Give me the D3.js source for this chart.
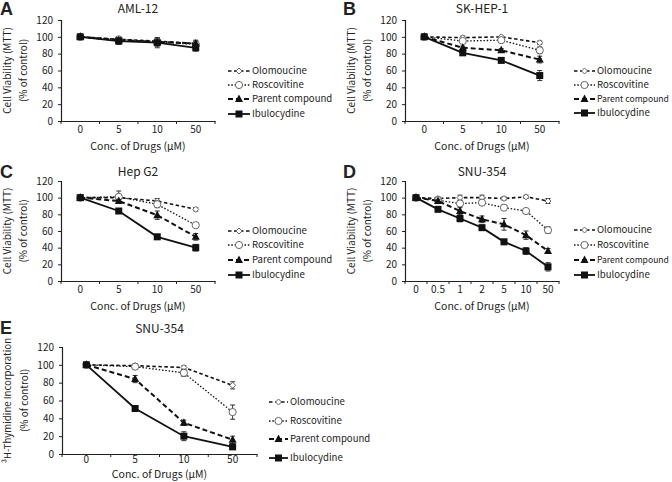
<!DOCTYPE html>
<html><head><meta charset="utf-8">
<script src="https://cdn.jsdelivr.net/npm/d3@7"></script>
<style>
body{margin:0;background:#fff;}
text{font-family:"Noto Sans CJK KR","Noto Sans",sans-serif;fill:#222;}
</style></head>
<body><svg id="chart" width="672" height="482"></svg>
<script>
// ---------- data ----------
const seriesNames = ["Olomoucine", "Roscovitine", "Parent compound", "Ibulocydine"];
const doses4 = ["0", "5", "10", "50"];
const doses7 = ["0", "0.5", "1", "2", "5", "10", "50"];
const yTicks = [0, 20, 40, 60, 80, 100, 120];

// A: AML-12 (MTT)
const amlValues = [[100, 97, 95, 92], [100, 97, 94, 91], [100, 96, 94, 92], [100, 95, 93, 87]];
const amlErrors = [[0, 2, 3, 3], [0, 2, 4, 3], [0, 3, 5, 4], [0, 4, 6, 4]];
// B: SK-HEP-1 (MTT)
const skValues = [[100, 99, 100, 93], [100, 95, 96, 84], [100, 87, 84, 73], [100, 81, 72, 54]];
const skErrors = [[0, 2, 1, 2], [0, 2, 2, 4], [0, 2, 2, 4], [0, 2, 2, 6]];
// C: Hep G2 (MTT)
const hepValues = [[100, 100, 96, 86], [100, 101, 92, 67], [100, 96, 79, 53], [100, 84, 53, 40]];
const hepErrors = [[0, 3, 3, 2], [0, 7, 4, 3], [0, 2, 5, 4], [0, 2, 3, 4]];
// D: SNU-354 (MTT)
const snuValues = [[100, 99, 100, 100, 99, 101, 96], [100, 97, 93, 94, 88, 84, 61],
                   [100, 96, 84, 74, 68, 55, 36], [100, 86, 75, 64, 47, 36, 17]];
const snuErrors = [[0, 2, 3, 3, 2, 2, 3], [0, 2, 3, 3, 3, 3, 4],
                   [0, 2, 4, 4, 7, 5, 3], [0, 2, 4, 3, 3, 4, 5]];
// E: SNU-354 (3H-thymidine)
const thyValues = [[100, 99, 97, 77], [100, 98, 91, 47], [100, 84, 35, 16], [100, 51, 20, 8]];
const thyErrors = [[0, 2, 2, 4], [0, 2, 4, 8], [0, 4, 3, 4], [0, 3, 5, 3]];

// ---------- styles ----------
const lineStyles = [
  {dash: "3.5,2.5", w: 1.6, marker: "diamond"},
  {dash: "1.5,1.8", w: 1.3, marker: "circle"},
  {dash: "5,3", w: 2.0, marker: "triangle"},
  {dash: null, w: 1.8, marker: "square"}
];

const svg = d3.select("#chart");

const panels = [
  {letter: "A", title: "AML-12", cats: doses4, vals: amlValues, errs: amlErrors,
   x0: 61, x1: 215, yTop: 20, yBot: 121, titleY: 13, letterY: 15, letterX: 0, tickPad: 5,
   legX: 228, legLen: 22, legRows: [71, 85, 99, 114], ylab: ["Cell Viability (MTT)", "(% of control)"], xlabY: 150},
  {letter: "B", title: "SK-HEP-1", cats: doses4, vals: skValues, errs: skErrors,
   x0: 405, x1: 559, yTop: 20, yBot: 121, titleY: 13, letterY: 15, letterX: 343, tickPad: 5,
   legX: 574, legLen: 21, legRows: [71, 85, 99, 113], ylab: ["Cell Viability (MTT)", "(% of control)"], xlabY: 150},
  {letter: "C", title: "Hep G2", cats: doses4, vals: hepValues, errs: hepErrors,
   x0: 61, x1: 215, yTop: 181, yBot: 281, titleY: 176, letterY: 178, letterX: 0, tickPad: 5,
   legX: 228, legLen: 22, legRows: [231, 245, 260, 275], ylab: ["Cell Viability (MTT)", "(% of control)"], xlabY: 310},
  {letter: "D", title: "SNU-354", cats: doses7, vals: snuValues, errs: snuErrors,
   x0: 405, x1: 559, yTop: 181, yBot: 281, titleY: 176, letterY: 178, letterX: 343, tickPad: 5,
   legX: 574, legLen: 21, legRows: [230, 245, 260, 275], ylab: ["Cell Viability (MTT)", "(% of control)"], xlabY: 310},
  {letter: "E", title: "SNU-354", cats: doses4, vals: thyValues, errs: thyErrors,
   x0: 62, x1: 257, yTop: 347, yBot: 454, titleY: 333, letterY: 334, letterX: 0, tickPad: 2,
   legX: 269, legLen: 19, legRows: [402, 421, 439, 458], ylab: ["³H-Thymidine Incorporation", "(% of control)"], xlabY: 478}
];

function drawMarker(g, type, cx, cy) {
  if (type === "square") {
    g.append("rect").attr("x", cx - 3.5).attr("y", cy - 3.5).attr("width", 7).attr("height", 7).attr("fill", "#111");
  } else if (type === "triangle") {
    g.append("path").attr("d", `M${cx},${cy - 4.5}L${cx + 4},${cy + 3}L${cx - 4},${cy + 3}Z`).attr("fill", "#111");
  } else if (type === "circle") {
    g.append("circle").attr("cx", cx).attr("cy", cy).attr("r", 3.6).attr("fill", "#fff").attr("stroke", "#666").attr("stroke-width", 1);
  } else {
    g.append("path").attr("d", `M${cx},${cy - 3}L${cx + 3},${cy}L${cx},${cy + 3}L${cx - 3},${cy}Z`)
      .attr("fill", "#fff").attr("stroke", "#666").attr("stroke-width", 1);
  }
}

panels.forEach(p => {
  const g = svg.append("g");
  const x = d3.scaleBand().domain(p.cats).range([p.x0, p.x1]);
  const y = d3.scaleLinear().domain([0, 120]).range([p.yBot, p.yTop]);

  // axes
  const yAxis = d3.axisLeft(y).tickValues(yTicks).tickSize(3).tickPadding(5);
  const ya = g.append("g").attr("transform", `translate(${p.x0},0)`).call(yAxis);
  ya.select(".domain").attr("stroke", "#222").attr("stroke-width", 1.2);
  ya.selectAll(".tick line").attr("stroke", "#222");
  ya.selectAll("text").style("font-size", "10px").attr("fill", "#222");

  const xa = g.append("g").attr("transform", `translate(0,${p.yBot})`)
    .call(d3.axisBottom(x).tickSize(0).tickPadding(p.tickPad));
  xa.select(".domain").attr("stroke", "#222").attr("stroke-width", 1.2);
  xa.selectAll("text").style("font-size", "10px").attr("fill", "#222");
  // tick marks at band boundaries
  const bounds = p.cats.map(c => x(c)).concat([x(p.cats[p.cats.length - 1]) + x.bandwidth()]);
  g.selectAll(null).data(bounds).enter().append("line")
    .attr("x1", d => d).attr("x2", d => d).attr("y1", p.yBot).attr("y2", p.yBot + 3)
    .attr("stroke", "#222").attr("stroke-width", 1);

  // labels
  g.append("text").attr("x", p.letterX).attr("y", p.letterY).text(p.letter)
    .style("font-size", "18px").style("font-weight", "bold").style("font-family", "Liberation Sans, Arial, sans-serif").attr("fill", "#000");
  g.append("text").attr("x", (p.x0 + p.x1) / 2).attr("y", p.titleY).attr("text-anchor", "middle")
    .text(p.title).style("font-size", "12px");
  g.append("text").attr("x", (p.x0 + p.x1) / 2).attr("y", p.xlabY).attr("text-anchor", "middle")
    .text("Conc. of Drugs (μM)").style("font-size", "10.5px");
  const yc = (p.yTop + p.yBot) / 2;
  [p.x0 - 54, p.x0 - 38].forEach((lx, i) => {
    const t = g.append("text").attr("transform", `translate(${lx},${yc}) rotate(-90)`).attr("text-anchor", "middle")
      .attr("dy", "0.35em").text(p.ylab[i]).style("font-size", "10px");
    if (p.ylab[i].length > 22) t.style("font-size", "9.6px");
  });

  // series
  const cx = c => x(c) + x.bandwidth() / 2;
  p.vals.forEach((vals, si) => {
    const st = lineStyles[si];
    const pts = vals.map((v, i) => [cx(p.cats[i]), y(v), p.errs[si][i], v]);
    const line = d3.line().x(d => d[0]).y(d => d[1]);
    g.append("path").attr("d", line(pts)).attr("fill", "none").attr("stroke", "#111")
      .attr("stroke-width", st.w).attr("stroke-dasharray", st.dash);
    pts.forEach(d => {
      if (d[2] > 0) {
        const yt = y(d[3] + d[2]), yb = y(d[3] - d[2]);
        g.append("line").attr("x1", d[0]).attr("x2", d[0]).attr("y1", yt).attr("y2", yb).attr("stroke", "#333").attr("stroke-width", 1);
        [yt, yb].forEach(yy => g.append("line").attr("x1", d[0] - 2.5).attr("x2", d[0] + 2.5)
          .attr("y1", yy).attr("y2", yy).attr("stroke", "#333").attr("stroke-width", 1));
      }
      drawMarker(g, st.marker, d[0], d[1]);
    });
    // legend
    const ly = p.legRows[si];
    g.append("line").attr("x1", p.legX).attr("x2", p.legX + p.legLen).attr("y1", ly).attr("y2", ly)
      .attr("stroke", "#111").attr("stroke-width", st.w).attr("stroke-dasharray", st.dash);
    drawMarker(g, st.marker, p.legX + p.legLen / 2, ly);
    const tx = p.legX + p.legLen + 2;
    const lt = g.append("text").attr("x", tx).attr("y", ly).attr("dy", "0.35em")
      .text(seriesNames[si]).style("font-size", "9.6px");
    const avail = 669 - tx;
    const w = lt.node().getComputedTextLength();
    if (w > avail) lt.style("font-size", (9.6 * avail / w).toFixed(2) + "px");
  });
});
</script></body></html>
